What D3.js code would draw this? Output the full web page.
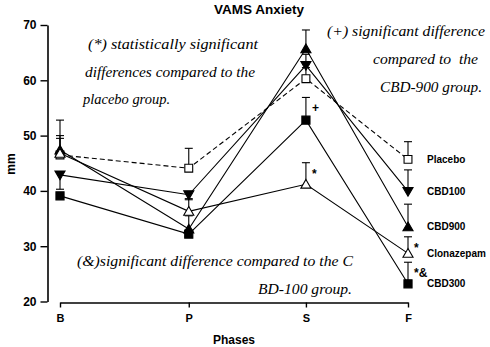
<!DOCTYPE html>
<html><head><meta charset="utf-8">
<script src="https://cdn.jsdelivr.net/npm/d3@7/dist/d3.min.js"></script>
<style>
body{margin:0;background:#fff;}
svg{display:block;}
</style></head>
<body>
<svg id="chart" width="490" height="347"></svg>
<script>
// ---- data ----
const phases = ["B", "P", "S", "F"];
const phasePos = [0, 1.11, 2.12, 3];           // relative spacing of the phases on the x axis
const yTicks = [20, 30, 40, 50, 60, 70];
const seriesNames = ["Placebo", "CBD100", "CBD900", "Clonazepam", "CBD300"];
const placebo    = [46.5, 44.1, 60.3, 45.7];
const cbd100     = [42.9, 39.3, 62.7, 39.9];
const cbd900     = [47.4, 33.1, 65.7, 33.5];
const clonazepam = [46.8, 36.3, 41.2, 28.7];
const cbd300     = [39.1, 32.2, 52.8, 23.2];
// SEM (positive = bar drawn upward, negative = downward)
const placeboErr    = [3.5, 3.6, 2.0, 3.2];
const cbd100Err     = [-2.6, -0.9, 2.0, 3.9];
const cbd900Err     = [5.4, 2.4, 3.4, 4.1];
const clonazepamErr = [2.7, 2.3, 3.9, 3.0];
const cbd300Err     = [-0.5, -0.5, 4.1, 3.9];
const sigMarks = [
  {series: "CBD300", phase: "S", text: "+"},
  {series: "Clonazepam", phase: "S", text: "*"},
  {series: "Clonazepam", phase: "F", text: "*"},
  {series: "CBD300", phase: "F", text: "*&"}
];
const notes = [
  "(*) statistically significant", "differences compared to the", "placebo group.",
  "(+) significant difference", "compared to  the", "CBD-900 group.",
  "(&)significant difference compared to the C", "BD-100 group."
];

// ---- build ----
const values = [placebo, cbd100, cbd900, clonazepam, cbd300];
const errs = [placeboErr, cbd100Err, cbd900Err, clonazepamErr, cbd300Err];
const styles = {
  "Placebo":    {sym: d3.symbolSquare, size: 62, rot: 0, fill: "#fff", dash: "5,3"},
  "CBD100":     {sym: d3.symbolTriangle, size: 44, rot: 180, fill: "#000", dash: null},
  "CBD900":     {sym: d3.symbolTriangle, size: 44, rot: 0, fill: "#000", dash: null},
  "Clonazepam": {sym: d3.symbolTriangle, size: 44, rot: 0, fill: "#fff", dash: null},
  "CBD300":     {sym: d3.symbolSquare, size: 66, rot: 0, fill: "#000", dash: null}
};
const series = seriesNames.map((n, i) => ({
  name: n,
  pts: phases.map((p, j) => ({phase: p, pos: phasePos[j], v: values[i][j], e: errs[i][j]}))
}));

const svg = d3.select("#chart");
const font = "'Liberation Sans', Arial, sans-serif";
const x = d3.scaleLinear().domain([0, 3]).range([60, 408]);
const y = d3.scaleLinear().domain([20, 70]).range([301.5, 25]);

// title
svg.append("text").attr("x", 259).attr("y", 14).attr("text-anchor", "middle")
  .attr("font-family", font).attr("font-weight", "bold").attr("font-size", 13.5)
  .text("VAMS Anxiety");

// y axis
const ya = svg.append("g").attr("transform", "translate(47.5,0)")
  .call(d3.axisLeft(y).tickValues(yTicks).tickSize(7).tickSizeOuter(0).tickPadding(4));
ya.select(".domain").attr("stroke-width", 1.6);
ya.selectAll(".tick line").attr("stroke-width", 1.4);
ya.selectAll("text").attr("font-family", font).attr("font-weight", "bold").attr("font-size", 12).attr("fill", "#000");

// x axis
const xa = svg.append("g").attr("transform", "translate(0,302.5)")
  .call(d3.axisBottom(x).tickValues(phasePos).tickFormat((d, i) => phases[i]).tickSize(5).tickSizeOuter(0).tickPadding(7));
xa.select(".domain").attr("stroke-width", 1.6);
xa.selectAll(".tick line").attr("stroke-width", 1.4);
xa.selectAll("text").attr("font-family", font).attr("font-weight", "bold").attr("font-size", 11).attr("fill", "#000");

// axis titles
svg.append("text").attr("x", 234).attr("y", 344).attr("text-anchor", "middle")
  .attr("font-family", font).attr("font-weight", "bold").attr("font-size", 12).text("Phases");
svg.append("text").attr("transform", "translate(15,164) rotate(-90)").attr("text-anchor", "middle")
  .attr("font-family", font).attr("font-weight", "bold").attr("font-size", 12).text("mm");

// lines
const line = d3.line().x(d => x(d.pos)).y(d => y(d.v));
svg.append("g").selectAll("path").data(series).join("path")
  .attr("d", d => line(d.pts)).attr("fill", "none").attr("stroke", "#000")
  .attr("stroke-width", 1.1).attr("stroke-dasharray", d => styles[d.name].dash);

// error bars
const eb = svg.append("g").attr("stroke", "#000").attr("stroke-width", 1.1);
series.forEach(s => s.pts.forEach(p => {
  const cx = x(p.pos), y0 = y(p.v), y1 = y(p.v + p.e);
  eb.append("line").attr("x1", cx).attr("x2", cx).attr("y1", y0).attr("y2", y1);
  eb.append("line").attr("x1", cx - 4).attr("x2", cx + 4).attr("y1", y1).attr("y2", y1);
}));

// markers
series.forEach(s => {
  const st = styles[s.name];
  svg.append("g").selectAll("path").data(s.pts).join("path")
    .attr("d", d3.symbol().type(st.sym).size(st.size))
    .attr("transform", d => `translate(${x(d.pos)},${y(d.v) + (st.sym === d3.symbolTriangle ? (st.rot ? -1 : 1) : 0)}) rotate(${st.rot})`)
    .attr("fill", st.fill).attr("stroke", "#000").attr("stroke-width", 1.1);
});

// series labels at the end
series.forEach(s => {
  const last = s.pts[s.pts.length - 1];
  svg.append("text").attr("x", x(3) + 19).attr("y", y(last.v)).attr("dy", "0.35em")
    .attr("font-family", font).attr("font-weight", "bold").attr("font-size", 10).text(s.name);
});

// significance marks
sigMarks.forEach(m => {
  const s = series.find(d => d.name === m.series);
  const p = s.pts.find(d => d.phase === m.phase);
  svg.append("text").attr("x", x(p.pos) + 6).attr("y", y(p.v + p.e) + 15)
    .attr("font-family", font).attr("font-weight", "bold").attr("font-size", 12).text(m.text);
});

// handwritten notes
const notePos = [
  [88, 49, 170], [85, 77, 170], [83, 104, 87],
  [327, 36, 158], [373, 64, 105], [380, 92, 102],
  [77, 266, 276], [258, 294, 94]
];
notes.forEach((t, i) => {
  svg.append("text").attr("x", notePos[i][0]).attr("y", notePos[i][1])
    .attr("font-family", "'Liberation Serif', serif").attr("font-style", "italic").attr("font-size", 15)
    .attr("textLength", notePos[i][2]).attr("lengthAdjust", "spacingAndGlyphs")
    .attr("xml:space", "preserve").style("white-space", "pre")
    .text(t);
});
</script>
</body></html>
